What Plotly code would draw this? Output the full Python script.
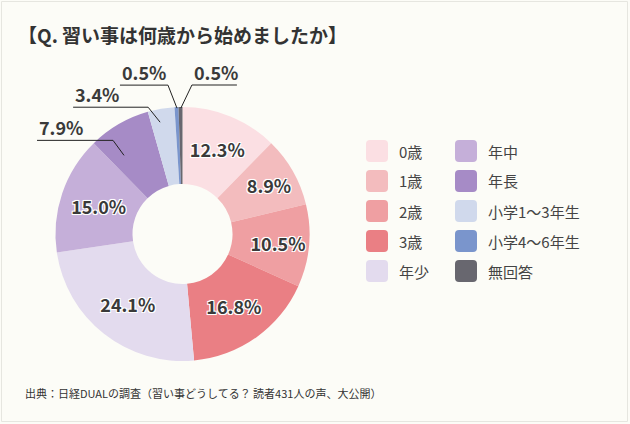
import math
import plotly.graph_objects as go

# chart data
labels = ['0歳', '1歳', '2歳', '3歳', '年少', '年中', '年長', '小学1〜3年生', '小学4〜6年生', '無回答']
values = [12.3, 8.9, 10.5, 16.8, 24.1, 15.0, 7.9, 3.4, 0.5, 0.5]
colors = ['#fbdfe3', '#f3bcbe', '#ef9fa2', '#ea7f84', '#e3dbee',
          '#c5afd9', '#a68bc6', '#d0d9ec', '#7a95cc', '#68676f']
title = '【Q. 習い事は何歳から始めましたか】'
source = '出典：日経DUALの調査（習い事どうしてる？ 読者431人の声、大公開）'

W, H = 630, 424
CX, CY, R = 182.5, 234, 127
HOLE = 50 / R
FONT = 'Noto Sans CJK JP'
TXT = '#3a3a3a'

# small slices get an outside label with a leader line
# index: (position inside slice 0..1, radius px, elbow dx, elbow dy, line length, direction)
callouts = {
    6: (0.27, 98, -11, -15, 76, -1),
    7: (0.37, 114, -12, -15, 75, -1),
    8: (0.6, 126, -9, -23, 48, -1),
    9: (0.6, 126, 11, -23, 45, 1),
}

def px(x):
    return x / W

def py(y):
    return 1 - y / H

fig = go.Figure()
fig.add_trace(go.Pie(
    labels=labels, values=values, sort=False, direction='clockwise', rotation=0,
    hole=HOLE, marker=dict(colors=colors, line=dict(width=0)),
    text=[f'{v:.1f}%' for v in values], textinfo='text',
    textposition=['none' if i in callouts else 'inside' for i in range(len(values))],
    insidetextorientation='horizontal',
    textfont=dict(family=FONT, size=18, color=TXT, weight='bold',
                  shadow='1px 1px 0 #fff, -1px -1px 0 #fff, 1px -1px 0 #fff, -1px 1px 0 #fff, 0 0 2px #fff'),
    domain=dict(x=[px(CX - R), px(CX + R)], y=[py(CY + R), py(CY - R)]),
    showlegend=False, hoverinfo='label+percent',
))

shapes = []
annotations = []
total = sum(values)
cum = 0
for i, v in enumerate(values):
    start, cum = cum, cum + v
    if i not in callouts:
        continue
    t, r, ex, ey, length, d = callouts[i]
    ang = 2 * math.pi * (start + t * v) / total
    x0, y0 = CX + r * math.sin(ang), CY - r * math.cos(ang)
    x1, y1 = x0 + ex, y0 + ey
    x2 = x1 + d * length
    shapes.append(dict(type='path', xref='paper', yref='paper',
                       path=f'M{px(x0)},{py(y0)} L{px(x1)},{py(y1)} L{px(x2)},{py(y1)}',
                       line=dict(color='#222', width=1)))
    annotations.append(dict(x=px(min(x1, x2)), y=py(y1 - 13), xref='paper', yref='paper',
                            text=f'{v:.1f}%', showarrow=False, xanchor='left', yanchor='middle',
                            font=dict(family=FONT, size=18, color=TXT, weight='bold')))

# legend, two columns of five
for i, (lab, col) in enumerate(zip(labels, colors)):
    c, row = divmod(i, 5)
    sx = 366 + c * 89
    sy = 140 + row * 30
    s, k = 22, 4
    x0, x1, y0, y1 = sx, sx + s, sy, sy + s
    path = (f'M{px(x0 + k)},{py(y0)} L{px(x1 - k)},{py(y0)} Q{px(x1)},{py(y0)} {px(x1)},{py(y0 + k)} '
            f'L{px(x1)},{py(y1 - k)} Q{px(x1)},{py(y1)} {px(x1 - k)},{py(y1)} '
            f'L{px(x0 + k)},{py(y1)} Q{px(x0)},{py(y1)} {px(x0)},{py(y1 - k)} '
            f'L{px(x0)},{py(y0 + k)} Q{px(x0)},{py(y0)} {px(x0 + k)},{py(y0)} Z')
    shapes.append(dict(type='path', xref='paper', yref='paper', path=path,
                       fillcolor=col, line=dict(width=0)))
    annotations.append(dict(x=px(sx + 31), y=py(sy + 11), xref='paper', yref='paper',
                            text=lab, showarrow=False, xanchor='left', yanchor='middle',
                            font=dict(family=FONT, size=15, color='#444')))

annotations.append(dict(x=px(16), y=py(35), xref='paper', yref='paper', text=title,
                        showarrow=False, xanchor='left', yanchor='middle',
                        font=dict(family=FONT, size=19, color='#333', weight='bold')))
annotations.append(dict(x=px(23), y=py(393), xref='paper', yref='paper', text=source,
                        showarrow=False, xanchor='left', yanchor='middle',
                        font=dict(family=FONT, size=11, color='#333')))

# faint frame
shapes.append(dict(type='rect', xref='paper', yref='paper', x0=px(1.5), x1=px(627.5),
                   y0=py(421.5), y1=py(1.5), line=dict(color='#e6e6e0', width=1)))

fig.update_layout(
    width=W, height=H, margin=dict(l=0, r=0, t=0, b=0),
    paper_bgcolor='#fcfcf7', plot_bgcolor='#fcfcf7',
    uniformtext=dict(minsize=18, mode='show'),
    shapes=shapes, annotations=annotations,
)

# page body has a default 8px margin; drop it so the figure fills the window
fig.write_html('out.html', config={'displayModeBar': False},
               post_script="document.body.style.margin='0';")
